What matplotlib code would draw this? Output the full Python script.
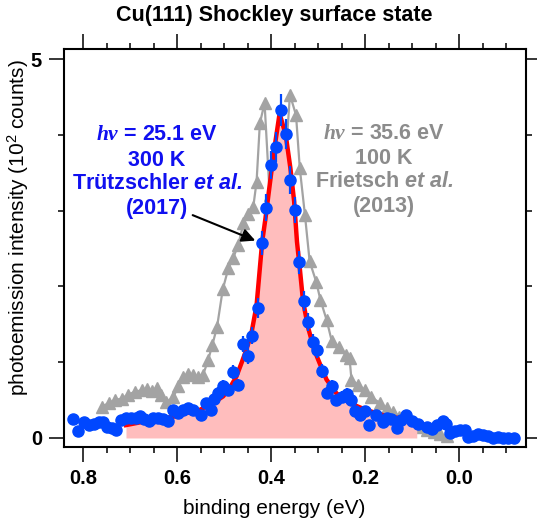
import matplotlib
matplotlib.use("Agg")
import matplotlib.pyplot as plt
import numpy as np
from matplotlib.ticker import MultipleLocator, FixedLocator

plt.rcParams['font.family'] = ['Liberation Sans', 'DejaVu Sans']
plt.rcParams['mathtext.fontset'] = 'custom'
plt.rcParams['mathtext.it'] = 'Liberation Serif:italic:bold'
plt.rcParams['mathtext.bfit'] = 'Liberation Sans:italic:bold'

# Trützschler et al. (2017), 25.1 eV, 300 K  (binding energy in eV, counts/100)
be_2017 = [0.821, 0.811, 0.798, 0.787, 0.778, 0.767, 0.757, 0.749, 0.739, 0.730,
           0.720, 0.710, 0.699, 0.688, 0.679, 0.670, 0.660, 0.651, 0.640, 0.630,
           0.620, 0.608, 0.598, 0.587, 0.576, 0.566, 0.550, 0.539, 0.529, 0.522,
           0.513, 0.502, 0.491, 0.481, 0.470, 0.460, 0.450, 0.440, 0.429, 0.420,
           0.410, 0.401, 0.390, 0.380, 0.369, 0.360, 0.349, 0.341, 0.331, 0.321,
           0.311, 0.302, 0.291, 0.282, 0.271, 0.261, 0.250, 0.239, 0.231, 0.222,
           0.211, 0.200, 0.191, 0.177, 0.162, 0.153, 0.144, 0.133, 0.123, 0.112,
           0.100, 0.087, 0.069, 0.058, 0.047, 0.035, 0.027, 0.019, 0.008, -0.003,
           -0.013, -0.020, -0.030, -0.040, -0.051, -0.062, -0.072, -0.083, -0.094,
           -0.104, -0.116]
int_2017 = [0.25, 0.09, 0.21, 0.17, 0.19, 0.21, 0.21, 0.14, 0.13, 0.10,
            0.24, 0.26, 0.27, 0.27, 0.29, 0.25, 0.22, 0.26, 0.27, 0.25,
            0.22, 0.37, 0.33, 0.37, 0.39, 0.37, 0.30, 0.46, 0.37, 0.52,
            0.59, 0.68, 0.63, 0.87, 0.70, 1.24, 1.08, 1.35, 1.72, 2.57,
            3.04, 3.60, 3.84, 4.33, 4.01, 3.40, 3.01, 2.32, 1.81, 1.53,
            1.26, 1.16, 0.88, 0.59, 0.68, 0.50, 0.54, 0.58, 0.50, 0.35,
            0.30, 0.36, 0.17, 0.30, 0.21, 0.26, 0.25, 0.13, 0.24, 0.30,
            0.22, 0.18, 0.15, 0.12, 0.17, 0.22, 0.19, 0.06, 0.09, 0.10,
            0.10, 0.01, 0.03, 0.05, 0.04, 0.02, 0.00, 0.01, 0.00,
            0.00, 0.00]

# Lorentzian fit to the 2017 spectrum
be_fit = [0.709, 0.651, 0.608, 0.580, 0.552, 0.524, 0.502, 0.488, 0.474, 0.463,
          0.453, 0.442, 0.431, 0.424, 0.419, 0.412, 0.403, 0.394, 0.382, 0.369,
          0.359, 0.351, 0.345, 0.339, 0.332, 0.321, 0.308, 0.297, 0.282, 0.261,
          0.233, 0.198, 0.161, 0.126, 0.090]
int_fit = [0.17, 0.24, 0.28, 0.33, 0.37, 0.46, 0.55, 0.66, 0.81, 0.99,
           1.16, 1.38, 1.75, 2.24, 2.59, 2.90, 3.34, 3.78, 4.28, 4.00,
           3.56, 3.12, 2.59, 2.24, 1.80, 1.45, 1.16, 0.99, 0.77, 0.59,
           0.46, 0.37, 0.30, 0.26, 0.18]

# Frietsch et al. (2013), 35.6 eV, 100 K
be_2013 = [0.761, 0.746, 0.733, 0.718, 0.705, 0.690, 0.675, 0.664, 0.654, 0.644,
           0.634, 0.623, 0.608, 0.598, 0.587, 0.576, 0.566, 0.556, 0.545, 0.534,
           0.525, 0.515, 0.503, 0.491, 0.481, 0.470, 0.459, 0.449, 0.438, 0.431,
           0.424, 0.414, 0.403, 0.392, 0.381, 0.370, 0.360, 0.347, 0.339, 0.328,
           0.318, 0.304, 0.295, 0.282, 0.271, 0.255, 0.241, 0.233, 0.229, 0.215,
           0.200, 0.187, 0.168, 0.153, 0.140, 0.127, 0.112, 0.098, 0.083, 0.068,
           0.054, 0.040, 0.026]
int_2013 = [0.41, 0.46, 0.50, 0.52, 0.57, 0.61, 0.63, 0.64, 0.62, 0.66,
            0.57, 0.47, 0.54, 0.68, 0.81, 0.85, 0.83, 0.81, 0.83, 1.03,
            1.23, 1.47, 1.96, 2.24, 2.37, 2.55, 2.83, 2.96, 3.05, 3.38,
            4.15, 4.42, 3.20, 3.70, 4.00, 3.60, 4.53, 4.26, 3.56, 2.94,
            2.33, 2.06, 1.82, 1.56, 1.28, 1.20, 1.09, 1.05, 0.77, 0.70,
            0.63, 0.54, 0.46, 0.39, 0.34, 0.28, 0.24, 0.20, 0.15, 0.11,
            0.08, 0.05, 0.02]

blue = '#0047ff'
grey = '#a3a3a3'

fig = plt.figure(figsize=(5.37, 5.24), dpi=100)
ax = fig.add_axes([63.5 / 537, 77 / 524, 462 / 537, 398 / 524])

ax.plot(be_2013, int_2013, '-^', color=grey, lw=1.6, ms=9, zorder=1)
ax.fill_between(be_fit, int_fit, 0, color='#ffbdbd', lw=0, zorder=2)
ax.plot(be_fit, int_fit, color='red', lw=3.2, zorder=3)

err = np.sqrt(np.array(int_2017) * 100) / 100
ax.errorbar(be_2017, int_2017, yerr=err, fmt='o', color=blue, ms=8,
            elinewidth=1.6, capsize=0, zorder=4)

ax.set_xlim(0.842, -0.1415)
ax.set_ylim(-0.119, 5.132)

ax.xaxis.set_major_locator(MultipleLocator(0.2))
ax.xaxis.set_minor_locator(MultipleLocator(0.05))
ax.yaxis.set_major_locator(FixedLocator([0, 5]))
ax.yaxis.set_minor_locator(FixedLocator([1, 2, 3, 4]))
ax.xaxis.set_major_formatter(plt.FuncFormatter(lambda v, p: f"{v:.1f}".replace("-0.0", "0.0")))

ax.tick_params(which='both', direction='out', top=True, right=True,
               width=1.1, labelsize=14.5, colors='black')
ax.tick_params(which='major', length=10.5, pad=5)
ax.tick_params(which='minor', length=4.5)
for lab in ax.get_xticklabels() + ax.get_yticklabels():
    lab.set_fontweight('bold')
for s in ax.spines.values():
    s.set_linewidth(1.5)

fig.text(274 / 537, 1 - 16 / 524, "Cu(111) Shockley surface state",
         ha='center', va='center', fontsize=15.5, fontweight='bold')
fig.text(274 / 537, 1 - 508 / 524, "binding energy (eV)",
         ha='center', va='center', fontsize=15)
fig.text(18 / 537, 1 - 228 / 524, "photoemission intensity (10$^\\mathregular{2}$ counts)",
         ha='center', va='center', rotation=90, fontsize=15)

tb = '#1010f0'
tg = '#8c8c8c'
lines_2017 = [r"$h\nu$ = 25.1 eV", "300 K", r"Trützschler $\mathbfit{et\ al.}$", "(2017)"]
lines_2013 = [r"$h\nu$ = 35.6 eV", "100 K", r"Frietsch $\mathbfit{et\ al.}$", "(2013)"]
ys = [0.784, 0.721, 0.663, 0.600]
for t, y in zip(lines_2017, ys):
    ax.text(0.202, y, t, transform=ax.transAxes, ha='center', va='center',
            fontsize=15.5, fontweight='bold', color=tb)
for t, y in zip(lines_2013, ys):
    ax.text(0.694, y + 0.004, t, transform=ax.transAxes, ha='center', va='center',
            fontsize=15.5, fontweight='bold', color=tg)

i = be_2017.index(0.420)
ax.annotate("", xy=(be_2017[i], int_2017[i]), xytext=(0.567, 2.94),
            arrowprops=dict(arrowstyle='-|>', color='black', lw=1.5,
                            mutation_scale=20, shrinkA=0, shrinkB=5), zorder=5)

fig.savefig("out.png", dpi=100)
